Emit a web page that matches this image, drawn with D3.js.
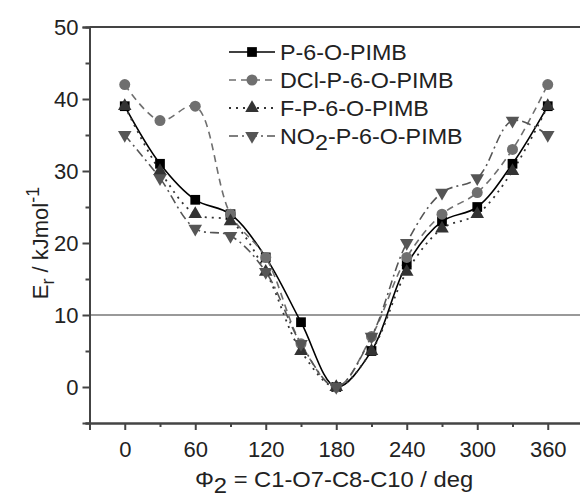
<!DOCTYPE html>
<html><head><meta charset="utf-8">
<script src="https://cdn.jsdelivr.net/npm/d3@7"></script>
<style>body{margin:0;background:#fff}svg{display:block}text{font-family:"Liberation Sans",Arial,sans-serif;fill:#222}</style>
</head><body><svg id="c" width="580" height="501"></svg>
<script>
const angles = [0,30,60,90,120,150,180,210,240,270,300,330,360];
const pValues   = [39,31,26,24,18,9,0,5,17,23,25,31,39];
const dclValues = [42,37,39,24,18,6,0,7,18,24,27,33,42];
const fValues   = [39,30,24,23,16,5,0,5,16,22,24,30,39];
const no2Values = [35,29,22,21,16,6,0,7,20,27,29,37,35];
const seriesNames = ["P-6-O-PIMB","DCl-P-6-O-PIMB","F-P-6-O-PIMB","NO2-P-6-O-PIMB"];
const xTicks = [0,60,120,180,240,300,360];
const yTicks = [0,10,20,30,40,50];

const series = [
  {name:seriesNames[0], values:pValues, color:"#000", dash:null, sym:d3.symbolSquare, size:95, rot:0, w:1.6},
  {name:seriesNames[1], values:dclValues, color:"#6f6f6f", dash:"7,5", sym:d3.symbolCircle, size:95, rot:0, w:1.6},
  {name:seriesNames[2], values:fValues, color:"#333", dash:"2,5", sym:d3.symbolTriangle, size:80, rot:0, w:1.8},
  {name:seriesNames[3], values:no2Values, color:"#555", dash:"9,4,2,4", sym:d3.symbolTriangle, size:80, rot:180, w:1.6}
];

const svg = d3.select("#c");
const L=89.5, R=583, T=27, B=423;
const x = d3.scaleLinear().domain([-30,390]).range([L,R]);
const y = d3.scaleLinear().domain([-5,50]).range([B,T]);
const axisColor="#444";

svg.append("line").attr("x1",L).attr("x2",R).attr("y1",T).attr("y2",T).attr("stroke",axisColor).attr("stroke-width",2);
svg.append("line").attr("x1",R).attr("x2",R).attr("y1",T).attr("y2",B).attr("stroke",axisColor).attr("stroke-width",2);
svg.append("line").attr("x1",L).attr("x2",R).attr("y1",y(10)).attr("y2",y(10)).attr("stroke","#777").attr("stroke-width",1.3);

const xa = svg.append("g").attr("transform",`translate(0,${B})`)
  .call(d3.axisBottom(x).tickValues(xTicks).tickSize(7).tickPadding(8).tickFormat(d3.format("d")));
const xm = svg.append("g").attr("transform",`translate(0,${B})`)
  .call(d3.axisBottom(x).tickValues([-30,30,90,150,210,270,330,390]).tickSize(4).tickFormat(""));
const ya = svg.append("g").attr("transform",`translate(${L},0)`)
  .call(d3.axisLeft(y).tickValues(yTicks).tickSize(7).tickPadding(4));
const ym = svg.append("g").attr("transform",`translate(${L},0)`)
  .call(d3.axisLeft(y).tickValues([-5,5,15,25,35,45]).tickSize(4).tickFormat(""));
[xa,xm,ya,ym].forEach(g=>{
  g.select(".domain").attr("stroke",axisColor).attr("stroke-width",2);
  g.selectAll(".tick line").attr("stroke",axisColor).attr("stroke-width",2);
  g.selectAll("text").attr("font-size",22).attr("fill","#222").style("font-family","'Liberation Sans',Arial,sans-serif");
});
xa.selectAll("text").attr("dy","0.85em");

const line = d3.line().x((d,i)=>x(angles[i])).y(d=>y(d)).curve(d3.curveCatmullRom.alpha(0.5));
series.forEach(s=>{
  svg.append("path").datum(s.values).attr("d",line).attr("fill","none")
    .attr("stroke",s.color).attr("stroke-width",s.w).attr("stroke-dasharray",s.dash);
});
series.forEach(s=>{
  svg.append("g").selectAll("path").data(s.values).join("path")
    .attr("d",d3.symbol().type(s.sym).size(s.size))
    .attr("transform",(d,i)=>`translate(${x(angles[i])},${y(d)}) rotate(${s.rot})`)
    .attr("fill",s.color);
});

const lg = svg.append("g");
const rowY=[52,80,108,136];
series.forEach((s,i)=>{
  const yy=rowY[i];
  lg.append("line").attr("x1",229).attr("x2",275).attr("y1",yy).attr("y2",yy)
    .attr("stroke",s.color).attr("stroke-width",s.w).attr("stroke-dasharray",s.dash);
  lg.append("path").attr("d",d3.symbol().type(s.sym).size(s.size)())
    .attr("transform",`translate(252,${yy}) rotate(${s.rot})`).attr("fill",s.color);
  const t = lg.append("text").attr("transform",`translate(280,${yy+8}) scale(1.06,1)`).attr("font-size",22);
  if(s.name.startsWith("NO2")){
    t.append("tspan").text("NO");
    t.append("tspan").text("2").attr("dy",6);
    t.append("tspan").text("-P-6-O-PIMB").attr("dy",-6);
  } else t.text(s.name);
});

const xt = svg.append("text").attr("transform","translate(334,487) scale(1.08,1)").attr("text-anchor","middle").attr("font-size",22);
xt.append("tspan").text("Φ");
xt.append("tspan").text("2").attr("dy",6);
xt.append("tspan").text(" = C1-O7-C8-C10 / deg").attr("dy",-6);

const yt = svg.append("text").attr("transform","translate(48,243) rotate(-90)").attr("text-anchor","middle").attr("font-size",22);
yt.append("tspan").text("E");
yt.append("tspan").text("r").attr("dy",6).attr("font-size",18);
yt.append("tspan").text("  / kJmol").attr("dy",-6);
yt.append("tspan").text("-1").attr("dy",-9).attr("font-size",18);
</script></body></html>
